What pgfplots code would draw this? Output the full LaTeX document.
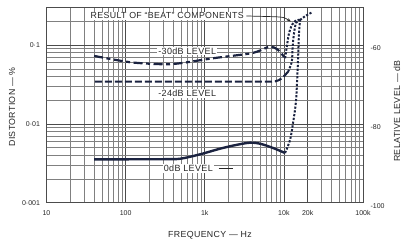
\documentclass[border=0pt]{standalone}
\usepackage{fontspec}
\setmainfont{Liberation Sans}
\newfontfamily\lab[LetterSpace=4]{Liberation Sans}
\usepackage{pgfplots}
\pgfplotsset{compat=1.18}
\usetikzlibrary{arrows.meta}
\definecolor{ink}{HTML}{1B2340}
\definecolor{txt}{HTML}{262626}

\pgfplotstableread{
f d
40 0.00355
100 0.00355
300 0.00356
490 0.00361
870 0.00410
1560 0.00484
2500 0.00540
3740 0.00577
5000 0.00560
7300 0.00494
10350 0.00427
}\zerodb
\pgfplotstableread{
f d
10350 0.00427
11970 0.00624
13060 0.01026
14260 0.0200
15100 0.0645
15500 0.134
16000 0.207
}\zerodbbeat
\pgfplotstableread{
f d
40 0.0726
114 0.0604
297 0.0569
488 0.0586
1274 0.0678
3427 0.0769
4585 0.0822
6700 0.0952
8450 0.0865
10370 0.0678
}\thirtydb
\pgfplotstableread{
f d
10370 0.0678
10970 0.100
11640 0.142
12700 0.180
14260 0.205
16000 0.207
}\thirtydbbeat
\pgfplotstableread{
f d
41 0.0343
300 0.0343
1000 0.0343
5000 0.0343
7740 0.0345
9400 0.0378
11300 0.0458
}\twfourdb
\pgfplotstableread{
f d
11300 0.0458
12600 0.0614
12900 0.095
13450 0.142
14260 0.190
16000 0.207
}\twfourdbbeat
\pgfplotstableread{
f d
16000 0.207
19000 0.235
22500 0.258
}\beattail

\begin{document}
\begin{tikzpicture}[x=1pt,y=1pt]
\path[use as bounding box] (0,0) rectangle (405,244);
\begin{axis}[at={(46.5pt,41.3pt)}, anchor=south west, scale only axis,
  width=316.5pt, height=195.4pt,
  xmode=log, ymode=log, xmin=10, xmax=100000, ymin=0.001, ymax=0.3,
  xtick={10,100,1000,10000,20000,100000},
  xticklabels={10,100,1k,10k,20k,100k},
  minor xtick={20,30,40,50,60,70,80,90,200,300,400,500,600,700,800,900,2000,3000,4000,5000,6000,7000,8000,9000,30000,40000,50000,60000,70000,80000,90000},
  ytick={0.001,0.01,0.1},
  yticklabels={0·001,0·01,0·1},
  minor ytick={0.002,0.003,0.004,0.005,0.006,0.007,0.008,0.009,0.02,0.03,0.04,0.05,0.06,0.07,0.08,0.09,0.2},
  grid=both,
  major grid style={black!70, line width=0.5pt},
  minor grid style={black!50, line width=0.3pt},
  major tick length=0pt, minor tick length=0pt,
  axis line style={black!70, line width=0.5pt},
  xticklabel style={font=\fontsize{7}{8}\selectfont, text=txt, yshift=-4pt},
  yticklabel style={font=\fontsize{7}{8}\selectfont, text=txt, xshift=-3pt},
]
\addplot[ink, line width=2.4pt, smooth, tension=0.5] table[x=f,y=d] {\zerodb};
\addplot[ink, line width=2.2pt, smooth, tension=0.5, dash pattern=on 9pt off 3.5pt on 4pt off 3.5pt] table[x=f,y=d] {\thirtydb};
\addplot[ink, line width=2.1pt, smooth, tension=0.5, dash pattern=on 7pt off 3pt] table[x=f,y=d] {\twfourdb};
\addplot[ink, line width=2pt, smooth, tension=0.5, dash pattern=on 2.2pt off 1.6pt] table[x=f,y=d] {\zerodbbeat};
\addplot[ink, line width=2pt, smooth, tension=0.5, dash pattern=on 2.2pt off 1.6pt] table[x=f,y=d] {\thirtydbbeat};
\addplot[ink, line width=2pt, smooth, tension=0.5, dash pattern=on 2.2pt off 1.6pt] table[x=f,y=d] {\twfourdbbeat};
\addplot[ink, line width=2pt, smooth, tension=0.5, dash pattern=on 2.2pt off 1.6pt] table[x=f,y=d] {\beattail};

\node[fill=white, inner sep=1pt, text=txt, font=\lab\fontsize{8.8}{9}\selectfont] at (axis cs:335,0.233) {RESULT OF “BEAT” COMPONENTS};
\draw[txt, line width=0.7pt, -{Stealth[length=4pt,width=3pt]}] (axis cs:3350,0.233) -- (axis cs:7500,0.228) .. controls (axis cs:10000,0.225) .. (axis cs:12300,0.198);
\node[fill=white, inner sep=1pt, text=txt, font=\lab\fontsize{9}{9}\selectfont] at (axis cs:600,0.084) {-30dB LEVEL};
\node[fill=white, inner sep=1pt, text=txt, font=\lab\fontsize{9}{9}\selectfont] at (axis cs:600,0.0244) {-24dB LEVEL};
\node[fill=white, inner sep=1pt, text=txt, font=\lab\fontsize{9}{9}\selectfont] at (axis cs:620,0.0027) {0dB LEVEL};
\draw[txt, line width=0.6pt] (axis cs:1500,0.0027) -- (axis cs:2250,0.0027);
\end{axis}
\begin{axis}[at={(46.5pt,41.3pt)}, anchor=south west, scale only axis,
  width=316.5pt, height=195.4pt,
  xmode=log, ymode=log, xmin=10, xmax=100000, ymin=0.001, ymax=0.3,
  axis x line=none, axis y line*=right, axis line style={draw=none},
  ytick={0.001,0.01,0.1}, yticklabels={-100,-80,-60},
  major tick length=0pt, minor tick length=0pt, minor ytick={},
  yticklabel style={font=\fontsize{7}{8}\selectfont, text=txt, xshift=4pt, yshift=-3pt},
]
\end{axis}
\node[rotate=90, text=txt, font=\lab\fontsize{8.8}{9}\selectfont] at (12,137) {DISTORTION — \%};
\node[rotate=90, text=txt, font=\lab\fontsize{8.8}{9}\selectfont] at (397,133) {RELATIVE LEVEL — dB};
\node[text=txt, font=\lab\fontsize{8.8}{9}\selectfont] at (210,9) {FREQUENCY — Hz};
\end{tikzpicture}
\end{document}
